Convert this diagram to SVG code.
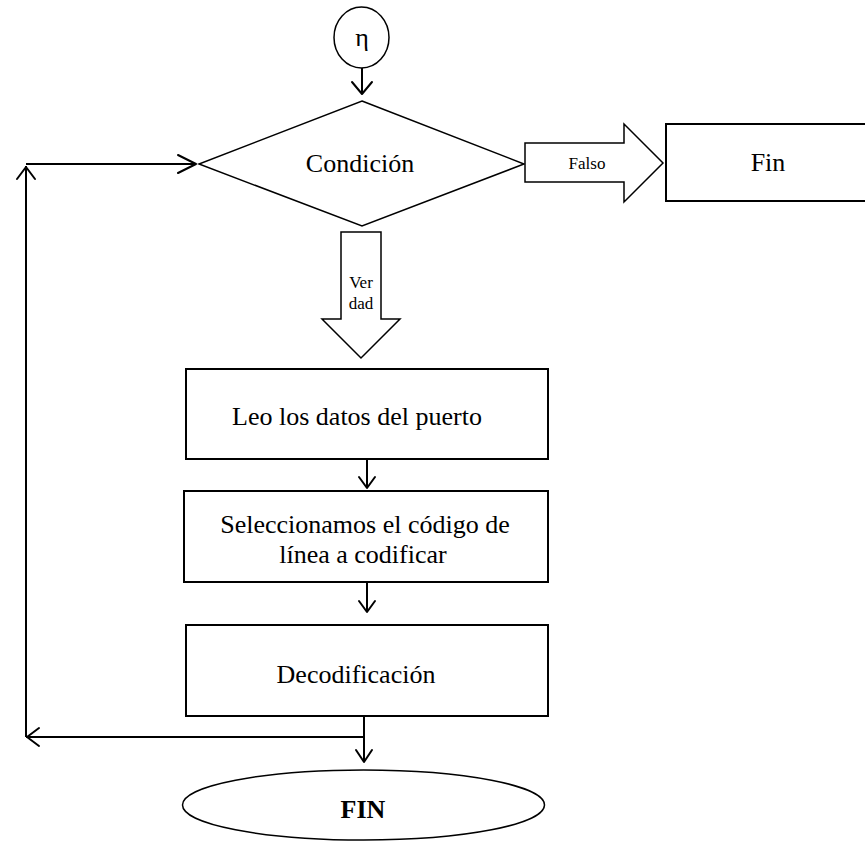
<svg xmlns="http://www.w3.org/2000/svg" width="865" height="843" viewBox="0 0 865 843">
  <defs>
    <style>
      .shape { fill: #ffffff; stroke: #000000; stroke-width: 1.5; }
      .box { fill: #ffffff; stroke: #000000; stroke-width: 2; }
      .line { fill: none; stroke: #000000; stroke-width: 2; }
      .head { fill: none; stroke: #000000; stroke-width: 2; stroke-linecap: round; stroke-linejoin: round; }
      .lbl { font-family: "Liberation Serif", "Times New Roman", serif; fill: #000000; text-anchor: middle; font-size: 26px; }
      .small { font-size: 17px; }
    </style>
  </defs>

  <rect width="865" height="843" fill="#ffffff"/>

  <!-- connector entry -->
  <g id="start">
    <ellipse class="shape" cx="361.5" cy="37.5" rx="27.5" ry="30.5"/>
    <text class="lbl" x="362" y="46" font-size="24">η</text>
  </g>

  <!-- decision -->
  <g id="condicion">
    <polygon class="shape" points="362,101 524,164 362,226 199,164"/>
    <text class="lbl" x="360" y="172">Condición</text>
  </g>

  <!-- false branch block arrow -->
  <g id="falso">
    <polygon class="shape" points="525,143 624,143 624,124 663,163 624,202 624,182 525,182"/>
    <text class="lbl small" x="587" y="169">Falso</text>
  </g>

  <g id="fin-box">
    <rect class="box" x="666" y="124" width="200" height="77"/>
    <text class="lbl" x="768" y="171">Fin</text>
  </g>

  <!-- true branch block arrow -->
  <g id="verdad">
    <polygon class="shape" points="341,232 381,232 381,319 400,319 361,358 322,319 341,319"/>
    <text class="lbl small" x="361" y="288">Ver</text>
    <text class="lbl small" x="361" y="309">dad</text>
  </g>

  <g id="leer-puerto">
    <rect class="box" x="186" y="369" width="362" height="90"/>
    <text class="lbl" x="357" y="425">Leo los datos del puerto</text>
  </g>

  <g id="seleccion">
    <rect class="box" x="184" y="491" width="364" height="91"/>
    <text class="lbl" x="365" y="533">Seleccionamos el código de</text>
    <text class="lbl" x="363" y="563">línea a codificar</text>
  </g>

  <g id="decodificacion">
    <rect class="box" x="186" y="625" width="362" height="91"/>
    <text class="lbl" x="356" y="683">Decodificación</text>
  </g>

  <g id="fin">
    <ellipse class="shape" cx="363.5" cy="805" rx="181" ry="35"/>
    <text class="lbl" x="363" y="818" font-size="25" font-weight="bold">FIN</text>
  </g>

  <!-- connectors -->
  <g id="connectors">
    <!-- start to decision -->
    <line class="line" x1="362" y1="68" x2="362" y2="94"/>
    <polyline class="head" points="352,82 362,94 372,82"/>

    <!-- box 1 to box 2 -->
    <line class="line" x1="367" y1="459" x2="367" y2="488"/>
    <polyline class="head" points="359,477 367,488 375,477"/>

    <!-- box 2 to box 3 -->
    <line class="line" x1="367" y1="582" x2="367" y2="612"/>
    <polyline class="head" points="359,601 367,612 375,601"/>

    <!-- box 3 down to junction and end -->
    <line class="line" x1="364" y1="716" x2="364" y2="762"/>
    <polyline class="head" points="356,750 364,762 372,750"/>

    <!-- loop back to decision -->
    <line class="line" x1="364" y1="737" x2="26" y2="737"/>
    <polyline class="head" points="39,728 27,737 39,746"/>
    <line class="line" x1="26" y1="737" x2="26" y2="166"/>
    <polyline class="head" points="17,179 26,167 35,179"/>
    <line class="line" x1="26" y1="164" x2="196" y2="164"/>
    <polyline class="head" points="178,155 196,164 178,173"/>
  </g>
</svg>
